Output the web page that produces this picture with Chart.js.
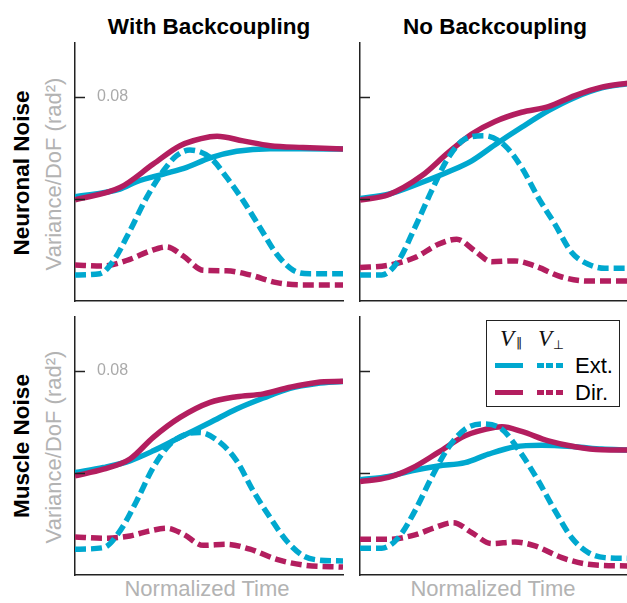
<!DOCTYPE html>
<html>
<head>
<meta charset="utf-8">
<script src="https://cdn.jsdelivr.net/npm/chart.js@4.4.0/dist/chart.umd.min.js"></script>
<style>
  body { margin:0; width:627px; height:603px; overflow:hidden; background:#fff; position:relative;
         font-family:"Liberation Sans", Arial, sans-serif; }
  canvas { position:absolute; }
  .title { position:absolute; top:16px; font-weight:bold; font-size:22.5px; line-height:22.5px;
           white-space:nowrap; transform:translateX(-50%); color:#000; }
  .rot { position:absolute; white-space:nowrap; transform:translate(-50%,-50%) rotate(-90deg); }
  .row { font-weight:bold; font-size:22.5px; line-height:22.5px; color:#000; }
  .ylab { font-size:22px; line-height:22px; color:#b3b3b3; }
  .xlab { position:absolute; top:578px; font-size:22px; line-height:22px; color:#b3b3b3;
          white-space:nowrap; transform:translateX(-50%); }
  #legend { position:absolute; left:486px; top:320px; width:134px; height:87px; box-sizing:border-box;
            border:1.3px solid #222; background:#fff; }
  #legend span, #legend div { position:absolute; white-space:nowrap; }
  .lv { font-family:"Liberation Serif", serif; font-style:italic; font-size:23px; line-height:23px; color:#111; }
  .ls { font-family:"DejaVu Sans", sans-serif; color:#111; }
  .lt { font-size:22px; line-height:22px; color:#000; }
  .sol { height:5px; width:28px; }
  .dsh { height:5px; width:26px; }
</style>
</head>
<body>
<div class="title" style="left:209px">With Backcoupling</div>
<div class="title" style="left:495px">No Backcoupling</div>

<div class="rot row" style="left:22px; top:173px">Neuronal Noise</div>
<div class="rot ylab" style="left:54px; top:174px">Variance/DoF (rad²)</div>
<div class="rot row" style="left:22px; top:446px">Muscle Noise</div>
<div class="rot ylab" style="left:54px; top:447px">Variance/DoF (rad²)</div>

<div class="xlab" style="left:207px">Normalized Time</div>
<div class="xlab" style="left:493px">Normalized Time</div>

<canvas id="withNeu" width="278" height="268" style="left:70px; top:38px"></canvas>
<canvas id="noNeu" width="278" height="268" style="left:355px; top:38px"></canvas>
<canvas id="withMus" width="278" height="268" style="left:70px; top:312px"></canvas>
<canvas id="noMus" width="278" height="268" style="left:355px; top:312px"></canvas>

<div id="legend">
  <span class="lv" style="left:13px; top:6px">V</span>
  <span class="ls" style="left:29px; top:16px; font-size:12.5px; line-height:12.5px">‖</span>
  <span class="lv" style="left:51px; top:6px">V</span>
  <span class="ls" style="left:66px; top:18px; font-size:12.5px; line-height:12.5px">⊥</span>
  <div class="sol" style="left:8px; top:42px; background:#00a8cf"></div>
  <div class="dsh" style="left:50px; top:42px; background:repeating-linear-gradient(90deg,#00a8cf 0 7px,transparent 7px 9.5px)"></div>
  <span class="lt" style="left:88px; top:34px">Ext.</span>
  <div class="sol" style="left:8px; top:69px; background:#b31e5f"></div>
  <div class="dsh" style="left:50px; top:69px; background:repeating-linear-gradient(90deg,#b31e5f 0 7px,transparent 7px 9.5px)"></div>
  <span class="lt" style="left:88px; top:61px">Dir.</span>
</div>

<script>
// [normalized time, variance/DoF]
const withNeuExtPar = [[0,0.0408],[0.168,0.0438],[0.23,0.0467],[0.33,0.0497],[0.417,0.0523],[0.504,0.056],[0.603,0.0586],[0.728,0.0596],[0.85,0.0596],[1,0.0595]];
const withNeuDirPar = [[0,0.0396],[0.168,0.0444],[0.292,0.0536],[0.392,0.0608],[0.504,0.0643],[0.53,0.0645],[0.627,0.0627],[0.728,0.0608],[0.851,0.0601],[1,0.0595]];
const withNeuExtPerp = [[0,0.0102],[0.093,0.0107],[0.143,0.0157],[0.205,0.0275],[0.267,0.0405],[0.33,0.051],[0.379,0.0569],[0.429,0.0591],[0.504,0.0562],[0.566,0.0484],[0.628,0.0392],[0.69,0.0288],[0.753,0.0183],[0.815,0.012],[0.877,0.0107],[1,0.0107]];
const withNeuDirPerp = [[0,0.0141],[0.1,0.0137],[0.205,0.0163],[0.28,0.0196],[0.342,0.0212],[0.404,0.0176],[0.479,0.012],[0.566,0.0118],[0.653,0.0102],[0.753,0.0072],[0.85,0.0063],[1,0.0063]];

const noNeuExtPar = [[0,0.0401],[0.106,0.0418],[0.23,0.0464],[0.33,0.0506],[0.417,0.0549],[0.504,0.0612],[0.603,0.068],[0.703,0.0745],[0.802,0.0797],[0.902,0.0834],[1,0.0851]];
const noNeuDirPar = [[0,0.0395],[0.106,0.0416],[0.23,0.049],[0.33,0.0582],[0.417,0.0654],[0.504,0.0703],[0.603,0.0739],[0.703,0.0761],[0.802,0.0804],[0.902,0.0837],[1,0.0853]];
const noNeuExtPerp = [[0,0.0102],[0.081,0.0102],[0.143,0.0157],[0.205,0.0288],[0.267,0.0431],[0.33,0.0562],[0.392,0.0634],[0.466,0.0647],[0.541,0.0608],[0.603,0.0523],[0.665,0.0405],[0.727,0.0301],[0.79,0.019],[0.852,0.0144],[0.914,0.0128],[1,0.0128]];
const noNeuDirPerp = [[0,0.0131],[0.106,0.014],[0.205,0.017],[0.292,0.0222],[0.361,0.0242],[0.429,0.0196],[0.491,0.0154],[0.578,0.0157],[0.653,0.0137],[0.753,0.0094],[0.852,0.0078],[1,0.0078]];

const withMusExtPar = [[0,0.0401],[0.106,0.0421],[0.205,0.0447],[0.292,0.0486],[0.392,0.0539],[0.504,0.0597],[0.603,0.065],[0.703,0.0693],[0.802,0.0731],[0.902,0.075],[1,0.0758]];
const withMusDirPar = [[0,0.0388],[0.106,0.0414],[0.205,0.0454],[0.292,0.0539],[0.392,0.0617],[0.504,0.0676],[0.603,0.0698],[0.703,0.0709],[0.802,0.0735],[0.902,0.0754],[1,0.0758]];
const withMusExtPerp = [[0,0.0101],[0.106,0.0107],[0.168,0.0173],[0.23,0.029],[0.292,0.0421],[0.354,0.0512],[0.417,0.0552],[0.466,0.0558],[0.541,0.0519],[0.603,0.0447],[0.665,0.0329],[0.728,0.0225],[0.79,0.0133],[0.852,0.0075],[0.914,0.0058],[1,0.0055]];
const withMusDirPerp = [[0,0.0149],[0.106,0.0144],[0.205,0.0153],[0.28,0.0173],[0.342,0.0183],[0.404,0.016],[0.479,0.0116],[0.566,0.012],[0.653,0.0101],[0.753,0.0061],[0.852,0.0039],[1,0.0031]];

const noMusExtPar = [[0,0.0373],[0.106,0.0386],[0.193,0.0408],[0.292,0.0427],[0.392,0.044],[0.479,0.0473],[0.578,0.0502],[0.678,0.0508],[0.802,0.0502],[0.902,0.0493],[1,0.0489]];
const noMusDirPar = [[0,0.0366],[0.106,0.0382],[0.193,0.0418],[0.292,0.048],[0.392,0.0545],[0.504,0.0578],[0.53,0.058],[0.603,0.0562],[0.703,0.0525],[0.802,0.0502],[0.902,0.049],[1,0.0489]];
const noMusExtPerp = [[0,0.0105],[0.081,0.0105],[0.143,0.0146],[0.205,0.0251],[0.267,0.0382],[0.33,0.0499],[0.392,0.0571],[0.454,0.0591],[0.529,0.0571],[0.603,0.0473],[0.665,0.0369],[0.728,0.0251],[0.79,0.0146],[0.852,0.0088],[0.914,0.0068],[1,0.0065]];
const noMusDirPerp = [[0,0.014],[0.106,0.014],[0.205,0.0157],[0.28,0.0186],[0.348,0.0205],[0.417,0.0166],[0.491,0.0123],[0.578,0.0129],[0.653,0.0114],[0.753,0.0068],[0.852,0.0042],[1,0.0035]];

const yTicks = [0.04, 0.08];
const labelledTick = 0.08;

const blue = '#00a8cf';
const magenta = '#b31e5f';

Chart.defaults.font.family = '"Liberation Sans", Arial, sans-serif';

// ticks point into the plot, so draw them here
const innerTicks = {
    id: 'innerTicks',
    afterDraw(chart) {
        const {ctx, chartArea, scales: {y}} = chart;
        ctx.save();
        ctx.strokeStyle = '#222';
        ctx.lineWidth = 1.5;
        yTicks.forEach(v => {
            const py = Math.round(y.getPixelForValue(v)) + 0.5;
            ctx.beginPath();
            ctx.moveTo(chartArea.left, py);
            ctx.lineTo(chartArea.left + 10, py);
            ctx.stroke();
        });
        ctx.restore();
    }
};

function toXY(pairs){
    return pairs.map(p => ({x: p[0], y: p[1]}));
}

function line(label, pairs, color, dashed){
    return {
        label: label,
        data: toXY(pairs),
        borderColor: color,
        borderWidth: 5.5,
        borderDash: dashed ? [11, 5] : [],
        pointRadius: 0,
        cubicInterpolationMode: 'monotone',
        fill: false
    };
}

function flatten(s){
    s.paddingTop = 0; s.paddingBottom = 0; s.paddingLeft = 0; s.paddingRight = 0;
}

function makePanel(id, extPar, dirPar, extPerp, dirPerp, showLabel){
    new Chart(document.getElementById(id), {
        type: 'line',
        data: {
            datasets: [
                line('Ext. V⊥', extPerp, blue, true),
                line('Dir. V⊥', dirPerp, magenta, true),
                line('Dir. V‖', dirPar, magenta, false),
                line('Ext. V‖', extPar, blue, false)
            ]
        },
        options: {
            responsive: false,
            animation: false,
            layout: { padding: 5 },
            plugins: { legend: { display: false }, tooltip: { enabled: false } },
            scales: {
                x: {
                    type: 'linear', min: 0, max: 1,
                    grid: { drawOnChartArea: false, drawTicks: false },
                    ticks: { display: false },
                    border: { color: '#222', width: 1.5 },
                    afterFit(s){ s.height = 0; flatten(s); }
                },
                y: {
                    min: 0, max: 0.101,
                    grid: { drawOnChartArea: false, drawTicks: false },
                    ticks: {
                        stepSize: 0.04,
                        mirror: true,
                        padding: 22,
                        color: '#aaa',
                        font: { size: 16 },
                        callback: v => (showLabel && Math.abs(v - labelledTick) < 1e-6) ? '0.08' : ''
                    },
                    border: { color: '#222', width: 1.5 },
                    afterFit(s){ s.width = 0; flatten(s); }
                }
            }
        },
        plugins: [innerTicks]
    });
}

makePanel('withNeu', withNeuExtPar, withNeuDirPar, withNeuExtPerp, withNeuDirPerp, true);
makePanel('noNeu', noNeuExtPar, noNeuDirPar, noNeuExtPerp, noNeuDirPerp, false);
makePanel('withMus', withMusExtPar, withMusDirPar, withMusExtPerp, withMusDirPerp, true);
makePanel('noMus', noMusExtPar, noMusDirPar, noMusExtPerp, noMusDirPerp, false);
</script>
</body>
</html>
